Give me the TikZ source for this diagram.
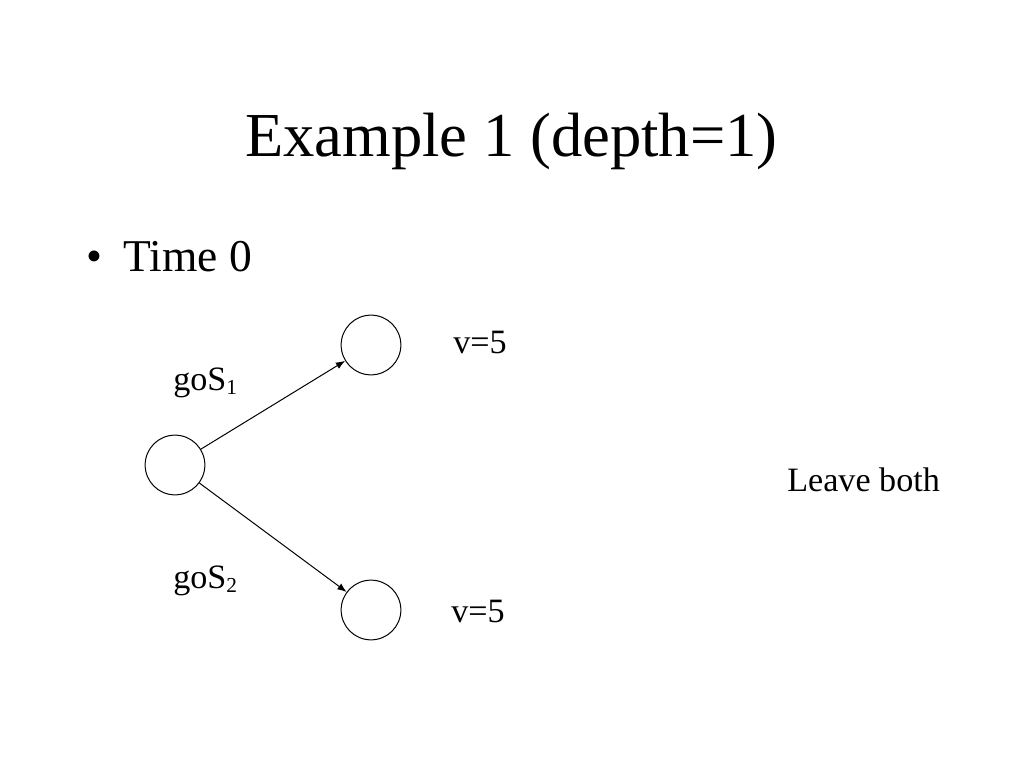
\documentclass[tikz,border=0pt]{standalone}
\usepackage{fontspec}
\setmainfont{Liberation Serif}
\usetikzlibrary{arrows.meta}
\newcommand{\lowsub}[1]{\raisebox{-3.5pt}{\fontsize{15}{18}\selectfont #1}}
\begin{document}
\begin{tikzpicture}[x=0.703125pt,y=-0.703125pt,
		state/.style={draw,circle,line width=.7pt,minimum size=42pt,inner sep=0pt},
		lbl/.style={anchor=base west,inner sep=0pt,font=\fontsize{24}{28}\selectfont},
		move/.style={line width=.7pt,-{Latex[length=6.5pt,width=5pt]}}]
	\useasboundingbox (0,0) rectangle (1024,768);
	
	\node[anchor=base west,inner sep=0pt,font=\fontsize{44}{52}\selectfont] (title) at (245,157) {Example 1 (depth=1)};
	\node[anchor=base west,inner sep=0pt,font=\fontsize{32}{38}\selectfont] (item) at (86,272) {\makebox[26pt][l]{\textbullet}Time 0};
	
	\coordinate (cenroot) at (175,465);
	\node[state] (root) at (cenroot) {};
	\node[state] (up) at (371,345) {};
	\node[state] (down) at (371,610) {};
	
	\draw[move] (root) -- (up);
	\draw[move] (root) -- (down);
	
	\node[lbl] (gos1) at (173,390) {goS\lowsub{1}};
	\node[lbl] (gos2) at (173,588) {goS\lowsub{2}};
	\node[lbl] (vup) at (453,353) {v=5};
	\node[lbl] (vdown) at (451,622) {v=5};
	\node[lbl] (leave) at (787,491) {Leave both};
\end{tikzpicture}
\end{document}
